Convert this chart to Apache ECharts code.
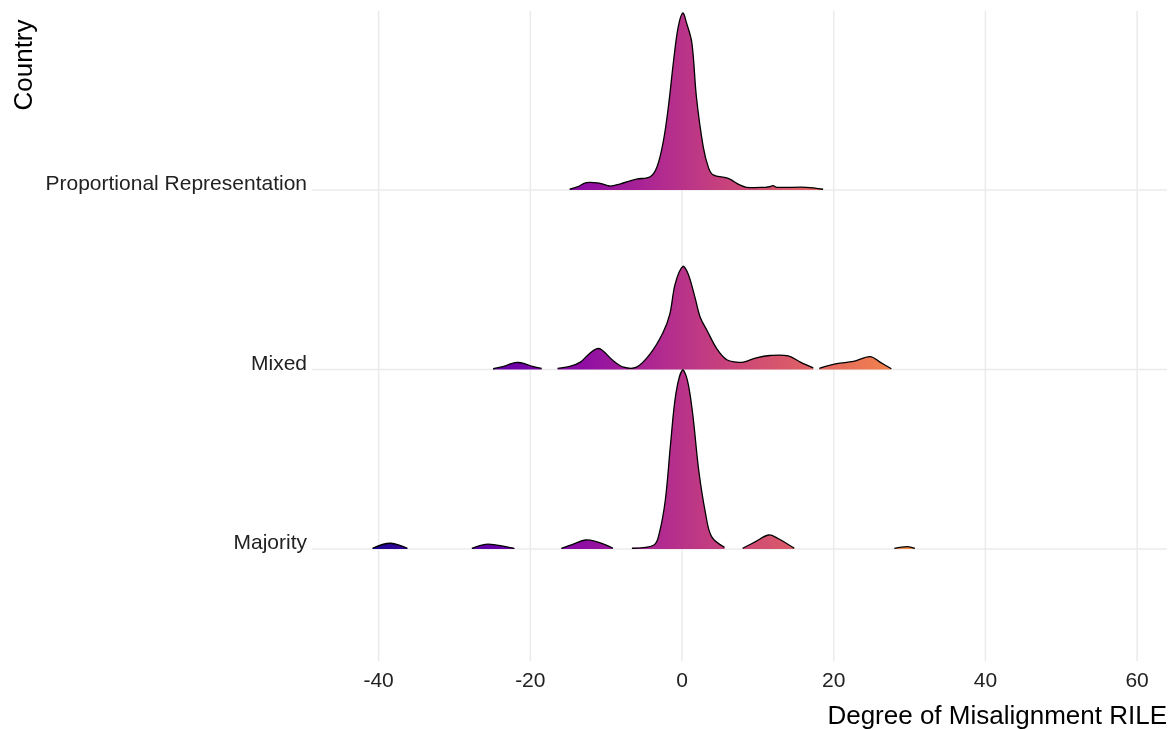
<!DOCTYPE html>
<html>
<head>
<meta charset="utf-8">
<script src="https://cdn.jsdelivr.net/npm/echarts@6/dist/echarts.min.js"></script>
<style>
  html, body { margin: 0; padding: 0; background: #ffffff; }
  #chart { width: 1173px; height: 729px; }
</style>
</head>
<body>
<div id="chart"></div>
<script>
// ---------------- data ----------------
const categories = ['Majority', 'Mixed', 'Proportional Representation'];
const xTicks = [-40, -20, 0, 20, 40, 60];
const xTitle = 'Degree of Misalignment RILE';
const yTitle = 'Country';

// density ridges: [x, height in row units], split where density is cut
const proportionalSegments = [
  [[-14.8,0.004],[-13.8,0.017],[-12.6,0.041],[-10.8,0.037],[-9.5,0.022],[-8.2,0.033],[-6.0,0.060],
   [-4.2,0.074],[-3.3,0.128],[-2.5,0.262],[-1.8,0.462],[-1.1,0.724],[-0.5,0.908],[0.1,0.986],
   [0.6,0.930],[1.3,0.819],[1.9,0.518],[2.8,0.240],[3.5,0.123],[4.1,0.084],[5.9,0.067],[6.5,0.056],
   [7.6,0.028],[8.5,0.015],[11.0,0.015],[11.6,0.018],[12.0,0.024],[12.5,0.015],[16.4,0.015],[18.6,0.004]]
];
const mixedSegments = [
  [[-24.9,0.004],[-23.5,0.017],[-22.5,0.033],[-21.6,0.039],[-20.6,0.030],[-19.7,0.017],[-18.5,0.006]],
  [[-16.4,0.006],[-14.8,0.017],[-13.4,0.041],[-12.3,0.085],[-11.3,0.115],[-10.6,0.110],[-9.1,0.050],
   [-7.7,0.013],[-6.0,0.013],[-4.2,0.087],[-2.5,0.206],[-1.6,0.310],[-0.9,0.477],[0.1,0.574],
   [0.8,0.533],[1.7,0.403],[2.4,0.291],[3.3,0.217],[4.6,0.115],[5.9,0.054],[7.2,0.041],[8.1,0.041],
   [9.8,0.065],[11.6,0.078],[14.0,0.076],[15.6,0.041],[17.3,0.009]],
  [[18.1,0.006],[20.4,0.032],[22.6,0.045],[24.8,0.072],[26.1,0.041],[27.6,0.004]]
];
const majoritySegments = [
  [[-40.8,0.004],[-39.5,0.025],[-38.4,0.032],[-37.3,0.022],[-36.2,0.004]],
  [[-27.7,0.004],[-25.9,0.026],[-24.4,0.022],[-22.1,0.004]],
  [[-15.9,0.004],[-14.4,0.026],[-12.7,0.050],[-11.3,0.041],[-10.0,0.022],[-9.1,0.004]],
  [[-6.6,0.004],[-3.7,0.022],[-3.0,0.087],[-2.2,0.273],[-1.5,0.589],[-0.8,0.867],[0.05,0.997],
   [0.7,0.942],[1.4,0.756],[2.2,0.440],[3.1,0.199],[3.9,0.069],[5.6,0.009]],
  [[8.0,0.004],[9.7,0.041],[11.4,0.078],[12.6,0.060],[14.8,0.004]],
  [[28.0,0.004],[29.7,0.013],[30.7,0.004]]
];

// plasma colour scale mapped across the x range of the fill
const fillRange = [-44.2, 59.0];
const plasmaColors = ['#0d0887','#41049d','#6a00a8','#8f0da4','#b12a90','#cc4778',
                      '#e16462','#f2844b','#fca636','#fcce25','#f0f921'];

// ---------------- layout ----------------
const X_MIN = -48.78, X_MAX = 63.94;
const Y_MIN = 0.376, Y_MAX = 3.997;
const FONT = "'Liberation Sans', Arial, sans-serif";

// upper rows first so lower ridges overlap them
const ridgeSegments = [];
proportionalSegments.forEach(p => ridgeSegments.push({ base: 3, pts: p }));
mixedSegments.forEach(p => ridgeSegments.push({ base: 2, pts: p }));
majoritySegments.forEach(p => ridgeSegments.push({ base: 1, pts: p }));

const colorStops = plasmaColors.map((c, i) => ({ offset: i / (plasmaColors.length - 1), color: c }));
const rowValues = categories.map((c, i) => i + 1);

const chart = echarts.init(document.getElementById('chart'), null, { renderer: 'canvas' });

const option = {
  backgroundColor: '#ffffff',
  animation: false,
  grid: { left: 312, right: 6, top: 11, bottom: 68, containLabel: false },
  xAxis: {
    type: 'value', min: X_MIN, max: X_MAX,
    axisLine: { show: false }, axisTick: { show: false }, splitLine: { show: false },
    axisLabel: {
      customValues: xTicks, fontSize: 21, fontFamily: FONT, color: '#222', margin: 10
    }
  },
  yAxis: {
    type: 'value', min: Y_MIN, max: Y_MAX,
    axisLine: { show: false }, axisTick: { show: false }, splitLine: { show: false },
    axisLabel: {
      customValues: rowValues,
      formatter: v => categories[Math.round(v) - 1] || '',
      fontSize: 21, fontFamily: FONT, color: '#222', margin: 5,
      verticalAlign: 'bottom', lineHeight: 11
    }
  },
  graphic: [
    { type: 'text', x: 25, y: 65, rotation: Math.PI / 2,
      style: { text: yTitle, font: '26px ' + FONT, fill: '#000', align: 'center', verticalAlign: 'middle' } },
    { type: 'text', x: 1167, y: 717,
      style: { text: xTitle, font: '26px ' + FONT, fill: '#000', align: 'right', verticalAlign: 'middle' } }
  ],
  series: [
    {
      name: 'vgrid', type: 'custom', z: 1, silent: true,
      data: xTicks.map(v => [v, Y_MIN]),
      renderItem: (params, api) => {
        const cs = params.coordSys;
        const x = api.coord([api.value(0), Y_MIN])[0];
        return { type: 'line', shape: { x1: x, y1: cs.y, x2: x, y2: cs.y + cs.height },
                 style: { stroke: '#ebebeb', lineWidth: 1.5 } };
      }
    },
    {
      name: 'hgrid', type: 'custom', z: 1, silent: true,
      data: rowValues.map(v => [X_MIN, v]),
      renderItem: (params, api) => {
        const cs = params.coordSys;
        const y = api.coord([X_MIN, api.value(1)])[1];
        return { type: 'line', shape: { x1: cs.x, y1: y, x2: cs.x + cs.width, y2: y },
                 style: { stroke: '#ebebeb', lineWidth: 1.5 } };
      }
    },
    {
      name: 'ridges', type: 'custom', z: 2, silent: true,
      data: ridgeSegments.map((s, i) => [s.pts[0][0], s.base, i]),
      encode: { x: 0, y: 1 },
      renderItem: (params, api) => {
        const seg = ridgeSegments[params.dataIndex];
        const top = seg.pts.map(p => api.coord([p[0], seg.base + p[1]]));
        const first = api.coord([seg.pts[0][0], seg.base]);
        const last = api.coord([seg.pts[seg.pts.length - 1][0], seg.base]);
        const g0 = api.coord([fillRange[0], seg.base])[0];
        const g1 = api.coord([fillRange[1], seg.base])[0];
        const fill = new echarts.graphic.LinearGradient(g0, 0, g1, 0, colorStops, true);
        return {
          type: 'group',
          children: [
            { type: 'polyline', shape: { points: [first].concat(top, [last]), smooth: 0.35 },
              style: { fill: fill, stroke: null } },
            { type: 'polyline', shape: { points: top, smooth: 0.35 },
              style: { stroke: '#000', lineWidth: 1.3, fill: null } }
          ]
        };
      }
    }
  ]
};
chart.setOption(option);
</script>
</body>
</html>
